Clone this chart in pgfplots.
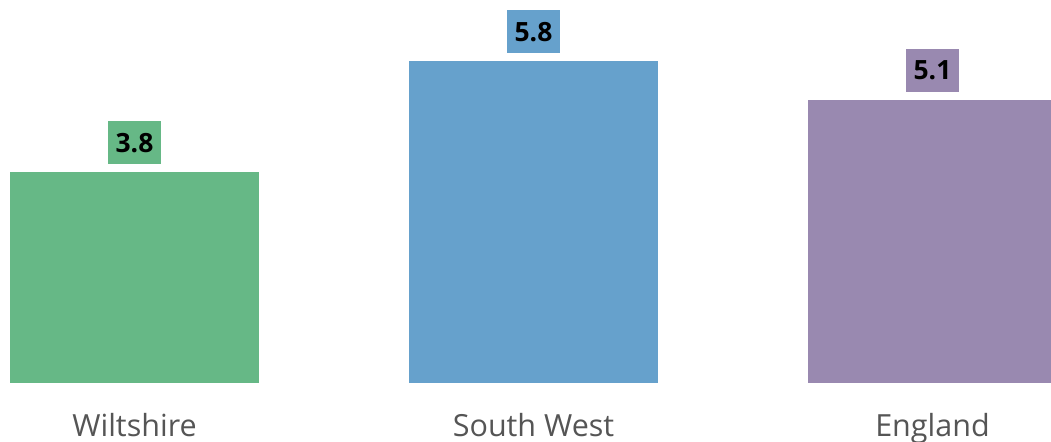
\documentclass[border=0pt]{standalone}
\usepackage{fontspec}
\setmainfont{Open Sans}
\usepackage{pgfplots}
\pgfplotsset{compat=1.18}
\definecolor{cgreen}{RGB}{102,184,134}
\definecolor{cblue}{RGB}{102,161,204}
\definecolor{cpurple}{RGB}{153,137,176}
\definecolor{cgrey}{RGB}{85,85,85}
\begin{document}
\begin{tikzpicture}
\begin{axis}[
  name=ax,
  scale only axis,
  width=1051pt, height=442pt,
  xmin=-0.3371, xmax=2.2970,
  ymin=-1.0627, ymax=6.898,
  ybar, bar width=249pt, bar shift=0pt,
  axis line style={draw=none},
  tick style={draw=none},
  ytick=\empty,
  xtick={0,1,2},
  xticklabels={Wiltshire,South West,England},
  xticklabel style={anchor=base, yshift=9.5pt, font=\fontsize{30.5}{36}\selectfont, text=cgrey},
  nodes near coords,
  /pgf/number format/assume math mode=true,
  /pgf/number format/fixed, /pgf/number format/precision=1,
  every node near coord/.append style={anchor=south, yshift=8pt, font=\fontsize{26.5}{30}\selectfont\bfseries, text=black,
     text height=19.5pt, text depth=0pt, inner xsep=8pt, inner ysep=11.75pt},
  clip=true,
]
\addplot[fill=cgreen, draw=none, every node near coord/.append style={fill=cgreen}] coordinates {(0,3.8)};
\addplot[fill=cblue, draw=none, every node near coord/.append style={fill=cblue}] coordinates {(1,5.8)};
\addplot[fill=cpurple, draw=none, every node near coord/.append style={fill=cpurple}] coordinates {(2,5.1)};
\end{axis}
\pgfresetboundingbox
\path[use as bounding box] (ax.south west) rectangle (ax.north east);
\end{tikzpicture}
\end{document}
